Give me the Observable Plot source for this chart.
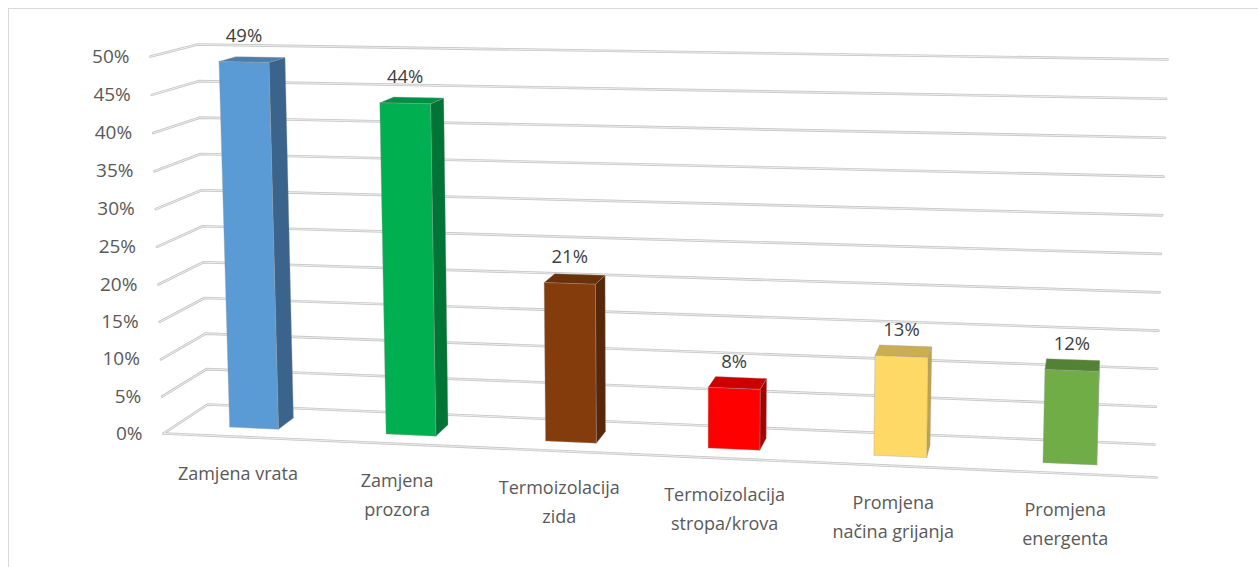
<!DOCTYPE html>
<html><head><meta charset="utf-8">
<style>
html,body{margin:0;padding:0;background:#fff;overflow:hidden}
#frame{position:absolute;left:8px;top:8px;right:-5px;bottom:-5px;border:1.5px solid #d9d9d9}
#chart{position:absolute;left:0;top:0}
</style>
<script src="https://cdn.jsdelivr.net/npm/d3@7"></script>
<script src="https://cdn.jsdelivr.net/npm/@observablehq/plot@0.6"></script>
</head><body><div id="frame"></div><div id="chart"></div>
<script>
const categories = ["Zamjena vrata","Zamjena\nprozora","Termoizolacija\nzida","Termoizolacija\nstropa/krova","Promjena\nnačina grijanja","Promjena\nenergenta"];
const values = [49,44,21,8,13,12];
const ticks = [0,5,10,15,20,25,30,35,40,45,50];
const frontColors = ["#5B9BD5","#00B050","#843C0C","#FF0000","#FFD966","#70AD47"];
const sideColors  = ["#3A648B","#007434","#562708","#A80000","#BFA24C","#49712E"];
const topColors   = ["#4A7EAD","#009044","#6A300A","#CC0000","#CCAE52","#548235"];

// Perspective box of the 3-D chart: corners [x,y] by (across, height, depth)
const box = {
  "000":[163,433], "100":[1156,477], "001":[207,404], "101":[1154,444],
  "010":[150,56],  "110":[1166,75],  "011":[197,44],  "111":[1167,59]
};
const warp = (t,k) => t/(t+k*(1-t));
function proj(u,v,d){
  const a = warp(u,1.06), b = warp(v/50,1.02);
  const out=[0,0];
  for (const i of [0,1]) for (const j of [0,1]) for (const l of [0,1]){
    const w=(i?a:1-a)*(j?b:1-b)*(l?d:1-d), p=box[`${i}${j}${l}`];
    out[0]+=w*p[0]; out[1]+=w*p[1];
  }
  return out;
}
const pt = (u,v,d,o={}) => { const [x,y]=proj(u,v,d); return {x,y,...o}; };

const n = categories.length, hw = 0.0262, d0 = 0.3, d1 = 0.68;
const centre = i => (i+0.5)/n;

// Gridlines
const grid = ticks.flatMap(t => [pt(0,t,0,{t}),pt(0,t,1,{t}),pt(1,t,1,{t})]);
const floorFront = [pt(0,0,0),pt(1,0,0)];

// Bar faces
const faces = values.flatMap((v,i) => {
  const c=centre(i), l=c-hw, r=c+hw;
  const poly=(name,color,cs)=>[...cs,cs[0]].map(q=>pt(q[0],q[1],q[2],{face:`${i}-${name}`,color}));
  return [
    ...poly("side",sideColors[i],[[r,0,d0],[r,0,d1],[r,v,d1],[r,v,d0]]),
    ...poly("top",topColors[i],[[l,v,d0],[r,v,d0],[r,v,d1],[l,v,d1]]),
    ...poly("front",frontColors[i],[[l,0,d0],[r,0,d0],[r,v,d0],[l,v,d0]])
  ];
});

const tickRows = ticks.map(t => pt(0,t,0,{label:`${t}%`}));
const dataRows = values.map((v,i) => pt(centre(i),v,d0,{label:`${v}%`}));
const catRows = categories.map((s,i) => pt(centre(i),0,0,{label:s}));
const font = '"Open Sans", sans-serif';

const chart = Plot.plot({
  width:1258, height:567, margin:0,
  x:{type:"identity",axis:null}, y:{type:"identity",axis:null}, color:{type:"identity"},
  style:{background:"transparent",fontFamily:font},
  marks:[
    Plot.line(grid,{x:"x",y:"y",z:"t",stroke:"#c6c6c6",strokeWidth:2.6}),
    Plot.line(floorFront,{x:"x",y:"y",stroke:"#c6c6c6",strokeWidth:2.6}),
    Plot.line(grid,{x:"x",y:"y",z:"t",stroke:"#f0f0f0",strokeWidth:0.9}),
    Plot.line(floorFront,{x:"x",y:"y",stroke:"#f0f0f0",strokeWidth:0.9}),
    Plot.line(faces,{x:"x",y:"y",z:"face",fill:"color",stroke:"#999",strokeOpacity:0.35,strokeWidth:1}),
    Plot.text(tickRows,{x:"x",y:"y",text:"label",dx:-21,textAnchor:"end",fontSize:19,fill:"#595959"}),
    Plot.text(dataRows,{x:"x",y:"y",text:"label",dy:-26,fontSize:18.5,fill:"#404040"}),
    Plot.text(catRows,{x:"x",y:"y",text:"label",dx:-4,dy:22,lineAnchor:"top",lineHeight:1.62,fontSize:18,fill:"#595959"})
  ]
});
document.getElementById("chart").appendChild(chart);
</script></body></html>
